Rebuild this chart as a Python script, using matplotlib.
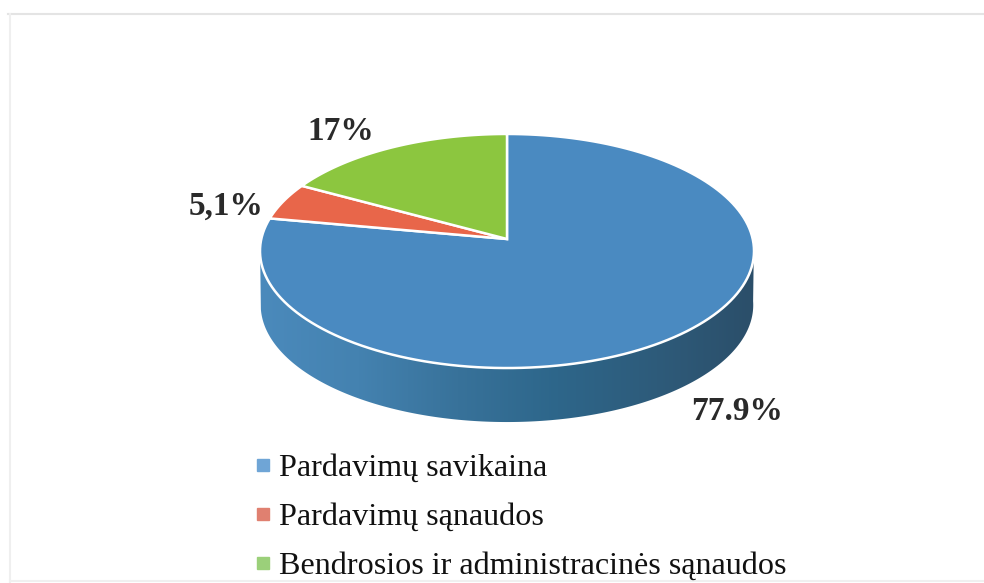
import numpy as np
import matplotlib
matplotlib.use("Agg")
import matplotlib.pyplot as plt
from matplotlib.lines import Line2D
from matplotlib.patches import Polygon

plt.rcParams['font.family'] = ['Liberation Serif', 'DejaVu Serif']

# data
categories = ['Pardavimų savikaina', 'Pardavimų sąnaudos', 'Bendrosios ir administracinės sąnaudos']
values = [77.9, 5.1, 17.0]
value_labels = ['77.9%', '5,1%', '17%']
colors = ['#4A8AC1', '#E8664A', '#8CC63F']
legend_colors = ['#6FA5D6', '#E08070', '#9BD07A']
label_pos = [(737, 411), (226.5, 206), (341, 132)]

# pie geometry, picture pixels
cx, cy = 507, 239
k = 0.1026      # perspective, far edge looks shorter
ra, rb = 245.7, 115.8
depth = 54


def rim(theta):
    w = 1 + k * np.cos(theta)
    return cx + ra * np.sin(theta) / w, cy - rb * np.cos(theta) / w


fig = plt.figure(figsize=(9.84, 5.83), dpi=100)
ax = fig.add_axes([0, 0, 1, 1])
ax.set_xlim(0, 984)
ax.set_ylim(583, 0)
ax.axis('off')

# faint page frame
ax.plot([8, 984], [14, 14], color='#e4e4e4', lw=1.5)
ax.plot([10, 10], [14, 583], color='#efefef', lw=1.5)
ax.plot([10, 984], [581, 581], color='#f0f0f0', lw=1.5)

# side wall with a left to right gradient
t = np.linspace(np.radians(94), np.radians(262), 200)
x_top, y_top = rim(t)
wall = np.vstack([np.column_stack([x_top, y_top]),
                  np.column_stack([x_top[::-1] * 0.997 + 1.5, y_top[::-1] + depth])])
shade = np.array([[0x4B, 0x8A, 0xBC], [0x44, 0x82, 0xB0], [0x38, 0x72, 0x9A],
                  [0x2D, 0x66, 0x8A], [0x2E, 0x5B, 0x7A], [0x2B, 0x4E, 0x69]]) / 255
pos = np.linspace(0, 1, len(shade))
u = np.linspace(0, 1, 256)
grad = np.stack([np.interp(u, pos, shade[:, i]) for i in range(3)], axis=1)[None, :, :]
im = ax.imshow(grad, extent=[258, 758, 440, 240], aspect='auto', zorder=2)
ax.set_xlim(0, 984)
ax.set_ylim(583, 0)
im.set_clip_path(Polygon(wall, transform=ax.transData))

# top face, clockwise from twelve o'clock
start = 0.0
total = sum(values)
for val, col in zip(values, colors):
    end = start + val / total * 2 * np.pi
    t = np.linspace(start, end, 150)
    x, y = rim(t)
    ax.fill(np.r_[cx, x], np.r_[cy, y], facecolor=col, edgecolor='white', lw=1.8,
            joinstyle='miter', zorder=3)
    start = end

for (lx, ly), txt in zip(label_pos, value_labels):
    ax.text(lx, ly, txt, fontsize=24, fontweight='bold', color='#2a2a2a',
            ha='center', va='center', zorder=4)

handles = [Line2D([], [], ls='none', marker='s', ms=8, color=c) for c in legend_colors]
ax.legend(handles, categories, loc='upper left', bbox_to_anchor=(255 / 984, 1 - 453.5 / 583),
          frameon=False, fontsize=23.1, labelspacing=0.61, handlelength=0.5,
          handletextpad=0.26, borderpad=0, borderaxespad=0, labelcolor='#111111')

fig.savefig('out.png', dpi=100)
